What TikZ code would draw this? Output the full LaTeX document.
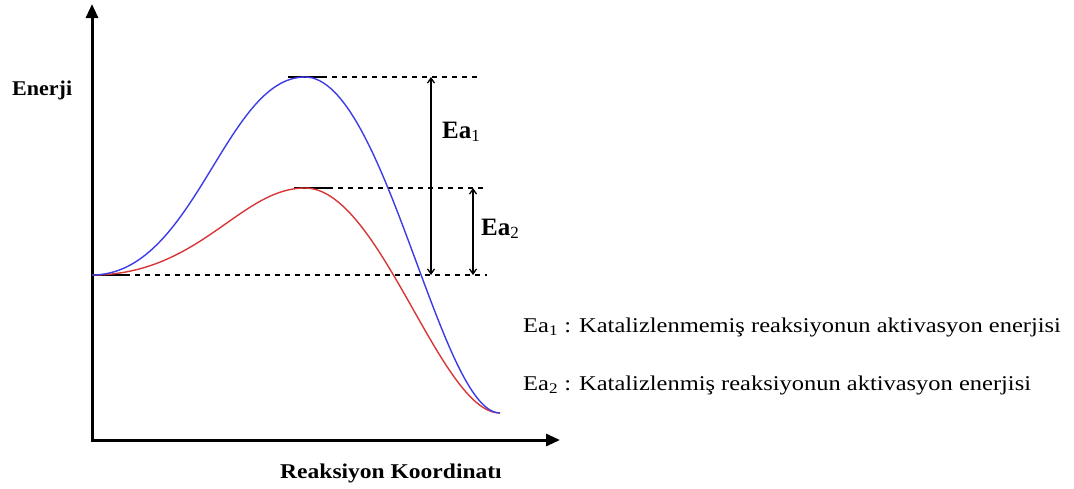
\documentclass[tikz,border=0pt]{standalone}
\usepackage{fontspec}
\setmainfont{Liberation Serif}
\usetikzlibrary{arrows.meta}
\begin{document}
\begin{tikzpicture}[x=1pt,y=-1pt,
  axis/.style={line width=3pt,-{Triangle[length=14pt,width=12pt]}},
  guide/.style={line width=1.2pt,dash pattern=on 5pt off 5pt},
  level/.style={line width=1.6pt},
  ea/.style={line width=1.3pt,{Straight Barb[length=5pt,width=7pt]}-{Straight Barb[length=5pt,width=7pt]}},
  curveA/.style={line width=1.4pt,color={rgb,255:red,60;green,60;blue,230}},
  curveB/.style={line width=1.4pt,color={rgb,255:red,215;green,55;blue,55}},
  lbl/.style={font=\bfseries\fontsize{21}{24}\selectfont,inner sep=0pt},
  big/.style={font=\bfseries\fontsize{25}{28}\selectfont,inner sep=0pt},
  legend/.style={font=\fontsize{21}{24}\selectfont,inner sep=0pt,anchor=base west}]
\useasboundingbox (0,0) rectangle (1074,488);
% key points
\coordinate (O) at (92,440);
\coordinate (S) at (92,275);
\coordinate (P1) at (305,77);
\coordinate (P2) at (305,188);
\coordinate (E) at (500,413);
\coordinate (ytop) at (92,4);
\coordinate (xend) at (560,440);
% axes
\draw[axis] (O) -- (ytop);
\draw[axis] ([xshift=-1.5pt]O) -- (xend);
% guide lines
\draw[level] (S) -- (125,275);
\draw[guide] (125,275) -- (487,275);
\draw[level] (288,77) -- (322,77);
\draw[guide] (322,77) -- (477,77);
\draw[level] (294,188) -- (328,188);
\draw[guide] (328,188) -- (485,188);
% curves
\draw[curveB] (S) .. controls (200,275) and (240,188) .. (P2)
   .. controls (380,188) and (440,413) .. (E);
\draw[curveA] (S) .. controls (195,275) and (225,77) .. (P1)
   .. controls (385,77) and (440,413) .. (E);
% Ea arrows
\coordinate (a1t) at (431,77);
\coordinate (a1b) at (431,275);
\coordinate (a2t) at (473,188);
\coordinate (a2b) at (473,275);
\draw[ea] (a1t) -- (a1b);
\draw[ea] (a2t) -- (a2b);
\node[big,anchor=base west] (ea1) at (442,138) {Ea\textmd{\fontsize{17}{20}\selectfont\raisebox{-3pt}{1}}};
\node[big,anchor=base west] (ea2) at (481,235) {Ea\textmd{\fontsize{17}{20}\selectfont\raisebox{-3pt}{2}}};
% axis labels
\node[lbl,anchor=base west] (enerji) at (12,95) {\scalebox{1.05}[1]{Enerji}};
\node[lbl,anchor=base] (rk) at (391,478) {\scalebox{1.12}[1]{Reaksiyon Koordinatı}};
% legend
\node[legend] (l1) at (523,332) {\scalebox{1.165}[1]{Ea\textsubscript{1} : Katalizlenmemiş reaksiyonun aktivasyon enerjisi}};
\node[legend] (l2) at (523,390) {\scalebox{1.165}[1]{Ea\textsubscript{2} : Katalizlenmiş reaksiyonun aktivasyon enerjisi}};
\end{tikzpicture}
\end{document}
